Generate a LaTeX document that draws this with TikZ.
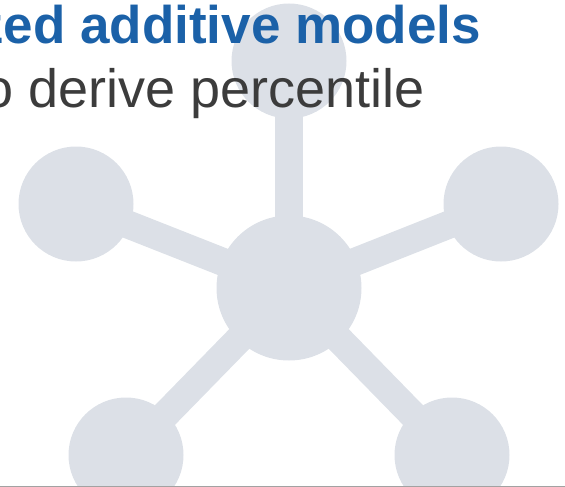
\documentclass[tikz,border=0pt]{standalone}
\usepackage{fontspec}
\setmainfont{Liberation Sans}
\definecolor{hubgray}{HTML}{DCE0E7}
\definecolor{titleblue}{HTML}{1B61A8}
\definecolor{subgray}{HTML}{3C3C3C}
\definecolor{rulegray}{HTML}{A2A2A2}
\begin{document}
\begin{tikzpicture}[x=1pt,y=-1pt,
  hub/.style={circle,fill=hubgray,inner sep=0pt,minimum size=#1},
  spoke/.style={draw=hubgray,line width=28pt},
  titletext/.style={inner sep=0pt,anchor=base east,text=titleblue,font=\fontsize{53}{60}\selectfont\bfseries},
  subtext/.style={inner sep=0pt,anchor=base east,text=subgray,font=\fontsize{54}{60}\selectfont}]
\useasboundingbox (0,0) rectangle (565,487);
\clip (0,0) rectangle (565,487);
% network icon: centre node with five satellites
\node[hub=145pt] (c) at (289,288) {};
\node[hub=115pt] (t) at (289,61) {};
\node[hub=115pt] (l) at (76,204) {};
\node[hub=115pt] (r) at (501,204) {};
\node[hub=115pt] (bl) at (126,455) {};
\node[hub=115pt] (br) at (452,455) {};
\foreach \n in {t,l,r,bl,br}
  \draw[spoke] (c.center) -- (\n.center);
% heading lines
\node[titletext] (title) at (481,44) {zed additive models};
\node[subtext] (sub) at (425,107) {o derive percentile};
% bottom rule
\coordinate (ruleL) at (0,486.3);
\coordinate (ruleR) at (565,486.3);
\draw[rulegray,line width=1.5pt] (ruleL) -- (ruleR);
\end{tikzpicture}
\end{document}
